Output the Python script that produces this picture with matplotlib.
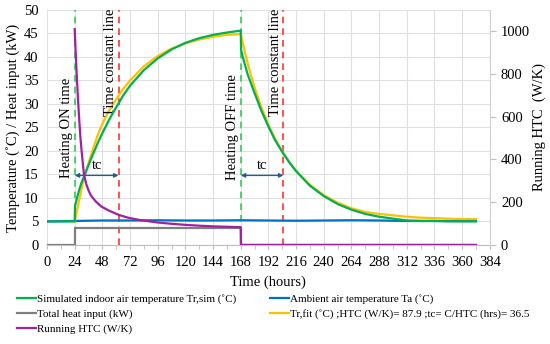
import matplotlib
matplotlib.use('Agg')
from matplotlib import pyplot as plt
from matplotlib.ticker import MultipleLocator

plt.rcParams['font.family'] = ['Liberation Serif', 'DejaVu Serif']

# Simulated indoor air temperature Tr,sim (degC)
t_sim = [0, 24, 24.3, 26, 28, 30, 32, 36, 40, 44, 48, 54, 60, 62, 66, 72, 84, 96, 108, 120, 132, 144, 156, 168,
         168.3, 170, 174, 180, 186, 192, 198, 204, 210, 216, 228, 240, 252, 264, 276, 288, 300, 312, 324, 336, 348,
         360, 372]
tr_sim = [5.0, 5.0, 8.3, 10.0, 11.8, 13.3, 14.5, 17.0, 19.4, 21.7, 23.8, 26.7, 29.3, 30.1, 31.8, 33.9, 37.2, 39.7,
          41.6, 43.0, 44.0, 44.7, 45.2, 45.6,
          41.5, 39.8, 36.3, 32.3, 28.5, 25.2, 22.2, 19.8, 17.6, 15.7, 12.6, 10.4, 8.7, 7.5, 6.6, 6.0, 5.6, 5.2, 5.1,
          5.1, 5.0, 5.0, 5.0]

# Fitted indoor temperature Tr,fit (degC)
t_fit = [24, 28, 32, 36, 40, 44, 48, 54, 60, 66, 72, 84, 96, 108, 120, 132, 144, 156, 168,
         172, 176, 180, 186, 192, 198, 204, 210, 216, 228, 240, 252, 264, 276, 288, 300, 312, 324, 336, 348, 360, 372]
tr_fit = [5.0, 9.7, 14.3, 17.4, 20.6, 23.4, 25.8, 28.7, 31.0, 33.2, 35.0, 38.0, 40.2, 41.8, 42.9, 43.7, 44.3, 44.7,
          44.9,
          40.6, 36.8, 33.5, 29.2, 25.6, 22.5, 19.9, 17.7, 15.8, 12.8, 10.6, 9.0, 7.8, 7.0, 6.6, 6.3, 6.0, 5.8, 5.7,
          5.6, 5.5, 5.5]

# Ambient air temperature Ta (degC)
t_amb = [0, 24, 48, 72, 96, 120, 144, 168, 192, 216, 240, 264, 288, 312, 336, 360, 372]
ta = [5.0, 5.1, 5.2, 5.2, 5.25, 5.2, 5.2, 5.25, 5.2, 5.15, 5.2, 5.25, 5.2, 5.1, 5.1, 5.1, 5.1]

# Total heat input (kW)
t_heat = [0, 24, 24, 168, 168, 372]
q_heat = [0, 0, 3.5, 3.5, 0, 0]

# Running HTC (W/K)
t_htc = [24, 25, 26, 27, 28, 29, 30, 32, 34, 36, 38, 42, 47, 54, 62, 70, 80, 96, 108, 120, 132, 144, 156, 168,
         168.2, 372]
htc = [1010, 880, 770, 670, 580, 500, 440, 330, 285, 255, 232, 205, 180, 160, 141, 128, 117, 105, 99, 94, 90, 87,
       85, 83, 0, 0]

t_on, t_off = 24, 168
tc_on, tc_off = 62, 205

fig = plt.figure(figsize=(5.5, 3.44), dpi=100)
ax = fig.add_axes([0.0855, 0.288, 0.805, 0.683])
ax2 = ax.twinx()

ax.plot(t_sim, tr_sim, color='#00b050', lw=1.6, zorder=4, label='Simulated indoor air temperature Tr,sim (˚C)')
ax.plot(t_heat, q_heat, color='#7f7f7f', lw=1.6, zorder=3, label='Total heat input (kW)')
ax.plot(t_amb, ta, color='#0070c0', lw=1.6, zorder=3, label='Ambient air temperature Ta (˚C)')
ax.plot(t_fit, tr_fit, color='#ffc000', lw=1.6, zorder=3,
        label='Tr,fit (˚C) ;HTC (W/K)= 87.9 ;tc= C/HTC (hrs)= 36.5')
ax2.plot(t_htc, htc, color='#a0229f', lw=1.6, label='Running HTC (W/K)')

# event lines
for x in (t_on, t_off):
    ax.axvline(x, color='#33cc55', lw=1.2, ls=(0, (4, 3)), zorder=2)
for x in (tc_on, tc_off):
    ax.axvline(x, color='#ff3333', lw=1.2, ls=(0, (4, 3)), zorder=2)

ax.text(t_on - 1.5, 25, 'Heating ON time', rotation=90, ha='right', va='center', fontsize=10.5)
ax.text(t_off - 1.5, 25, 'Heating OFF time', rotation=90, ha='right', va='center', fontsize=10.5)
ax.text(tc_on - 1.5, 38.8, 'Time constant line', rotation=90, ha='right', va='center', fontsize=10.5)
ax.text(tc_off - 1.5, 38.8, 'Time constant line', rotation=90, ha='right', va='center', fontsize=10.5)

for a, b in ((t_on, tc_on), (t_off, tc_off)):
    ax.annotate('', xy=(b, 14.8), xytext=(a, 14.8),
                arrowprops=dict(arrowstyle='<|-|>', color='#1f5f8b', lw=1.0, mutation_scale=6,
                                shrinkA=0, shrinkB=0), zorder=5)
    ax.text((a + b) / 2, 15.6, 'tc', ha='center', va='bottom', fontsize=10.5)

ax.set_xlim(0, 384)
ax.set_ylim(0, 50)
ax2.set_ylim(0, 1100)
ax.xaxis.set_major_locator(MultipleLocator(24))
ax.xaxis.set_minor_locator(MultipleLocator(12))
ax.yaxis.set_major_locator(MultipleLocator(5))
ax2.set_yticks(range(0, 1001, 200))

ax.grid(True, which='major', color='#e0e0e0', lw=0.8, zorder=0)
ax.set_axisbelow(True)
for a in (ax, ax2):
    for s in a.spines.values():
        s.set_visible(False)
ax.spines['bottom'].set_visible(True)
ax.spines['bottom'].set_color('#bfbfbf')
ax2.spines['right'].set_visible(True)
ax2.spines['right'].set_color('#d0d0d0')

ax.tick_params(axis='x', which='both', length=3, color='#bfbfbf', labelsize=10.5, pad=5)
ax.tick_params(axis='y', length=0, labelsize=10.5, pad=6)
ax2.tick_params(axis='y', length=4, color='#bfbfbf', labelsize=10.5, pad=4)

ax.set_xlabel('Time (hours)', fontsize=10.5, labelpad=5)
ax.set_ylabel('Temperature (˚C) / Heat input (kW)', fontsize=10.5, labelpad=3)
ax2.set_ylabel('Running HTC  (W/K)', fontsize=10.5, labelpad=2)

h1, l1 = ax.get_legend_handles_labels()
h2, l2 = ax2.get_legend_handles_labels()
handles = [h1[0], h1[1], h2[0], h1[2], h1[3]]
labels = [l1[0], l1[1], l2[0], l1[2], l1[3]]
fig.legend(handles, labels, loc='upper left', bbox_to_anchor=(0.031, 0.145), ncol=2, frameon=False,
           fontsize=8, handlelength=1.7, handletextpad=0.1, columnspacing=3.0, labelspacing=0.45,
           borderaxespad=0, borderpad=0)

fig.savefig('out.png', dpi=100)
